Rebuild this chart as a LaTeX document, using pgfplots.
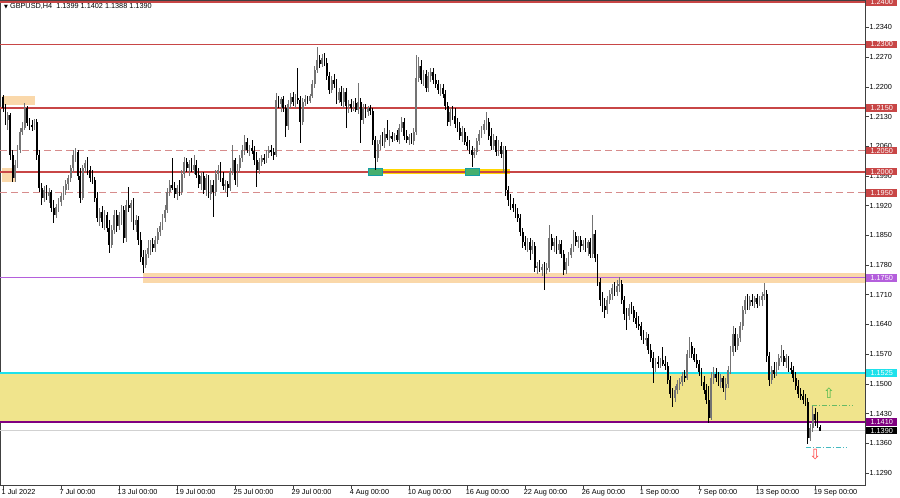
\documentclass[border=0pt]{standalone}
\usepackage{pgfplots}
\pgfplotsset{compat=1.18}
\usepackage{pgfplotstable}
\usepackage{fontspec}
\setmainfont{Liberation Sans}
\newfontfamily\dejavu{DejaVu Sans}
\definecolor{lvlred}{RGB}{200,70,70}
\definecolor{lvldash}{RGB}{215,140,140}
\definecolor{peach}{RGB}{250,216,170}
\definecolor{orchid}{RGB}{180,95,220}
\definecolor{zone}{RGB}{240,228,140}
\definecolor{cyanl}{RGB}{30,225,235}
\definecolor{dpurple}{RGB}{128,0,128}
\definecolor{gold}{RGB}{255,214,0}
\definecolor{boxgreen}{RGB}{70,175,110}
\definecolor{upc}{RGB}{115,115,115}
\pgfplotstableread{
i o h l c
0 1.2176 1.2181 1.2141 1.2150
1 1.2150 1.2160 1.2110 1.2122
2 1.2122 1.2141 1.2098 1.2134
3 1.2134 1.2138 1.2028 1.2039
4 1.2039 1.2051 1.1976 1.1985
5 1.1985 1.2028 1.1976 1.2016
6 1.2016 1.2063 1.2009 1.2051
7 1.2051 1.2103 1.2044 1.2094
8 1.2094 1.2117 1.2087 1.2103
9 1.2103 1.2162 1.2098 1.2150
10 1.2150 1.2155 1.2108 1.2115
11 1.2115 1.2127 1.2098 1.2110
12 1.2110 1.2122 1.2096 1.2105
13 1.2105 1.2124 1.2098 1.2117
14 1.2117 1.2124 1.2028 1.2039
15 1.2039 1.2051 1.1952 1.1962
16 1.1962 1.1973 1.1922 1.1938
17 1.1938 1.1966 1.1929 1.1957
18 1.1957 1.1969 1.1933 1.1943
19 1.1943 1.1962 1.1926 1.1952
20 1.1952 1.1957 1.1905 1.1914
21 1.1914 1.1933 1.1879 1.1898
22 1.1898 1.1924 1.1891 1.1917
23 1.1917 1.1938 1.1905 1.1929
24 1.1929 1.1950 1.1919 1.1943
25 1.1943 1.1966 1.1933 1.1957
26 1.1957 1.1980 1.1945 1.1971
27 1.1971 1.1992 1.1957 1.1985
28 1.1985 1.2016 1.1976 1.2009
29 1.2009 1.2051 1.1999 1.2039
30 1.2039 1.2056 1.2023 1.2047
31 1.2047 1.2051 1.1980 1.1990
32 1.1990 1.2009 1.1926 1.1938
33 1.1938 1.2016 1.1933 1.2009
34 1.2009 1.2028 1.1999 1.2021
35 1.2021 1.2035 1.1992 1.2004
36 1.2004 1.2014 1.1976 1.1985
37 1.1985 1.2004 1.1971 1.1980
38 1.1980 1.1987 1.1929 1.1938
39 1.1938 1.1952 1.1881 1.1891
40 1.1891 1.1914 1.1872 1.1905
41 1.1905 1.1919 1.1867 1.1881
42 1.1881 1.1910 1.1863 1.1898
43 1.1898 1.1905 1.1858 1.1867
44 1.1867 1.1886 1.1808 1.1827
45 1.1827 1.1874 1.1820 1.1863
46 1.1863 1.1910 1.1853 1.1898
47 1.1898 1.1910 1.1858 1.1872
48 1.1872 1.1905 1.1863 1.1898
49 1.1898 1.1922 1.1874 1.1910
50 1.1910 1.1919 1.1832 1.1844
51 1.1844 1.1933 1.1834 1.1922
52 1.1922 1.1964 1.1905 1.1914
53 1.1914 1.1933 1.1881 1.1926
54 1.1926 1.1938 1.1863 1.1874
55 1.1874 1.1898 1.1858 1.1886
56 1.1886 1.1896 1.1827 1.1839
57 1.1839 1.1858 1.1787 1.1799
58 1.1799 1.1815 1.1761 1.1780
59 1.1780 1.1815 1.1773 1.1806
60 1.1806 1.1839 1.1797 1.1820
61 1.1820 1.1839 1.1804 1.1830
62 1.1830 1.1844 1.1811 1.1820
63 1.1820 1.1849 1.1811 1.1839
64 1.1839 1.1867 1.1830 1.1858
65 1.1858 1.1881 1.1849 1.1872
66 1.1872 1.1900 1.1863 1.1891
67 1.1891 1.1922 1.1881 1.1910
68 1.1910 1.1962 1.1903 1.1952
69 1.1952 1.1980 1.1943 1.1969
70 1.1969 1.2032 1.1957 1.1962
71 1.1962 1.1976 1.1938 1.1947
72 1.1947 1.1969 1.1933 1.1962
73 1.1962 1.1980 1.1943 1.1952
74 1.1952 1.2004 1.1945 1.1995
75 1.1995 1.2035 1.1985 1.2023
76 1.2023 1.2032 1.1999 1.2009
77 1.2009 1.2028 1.1990 1.2018
78 1.2018 1.2032 1.1999 1.2004
79 1.2004 1.2039 1.1995 1.2016
80 1.2016 1.2028 1.1985 1.1992
81 1.1992 1.2009 1.1962 1.1971
82 1.1971 1.1999 1.1957 1.1990
83 1.1990 1.1999 1.1947 1.1957
84 1.1957 1.1995 1.1943 1.1985
85 1.1985 1.1992 1.1938 1.1947
86 1.1947 1.1980 1.1933 1.1969
87 1.1969 1.1980 1.1893 1.1952
88 1.1952 1.2004 1.1943 1.1995
89 1.1995 1.2016 1.1980 1.2004
90 1.2004 1.2023 1.1976 1.1985
91 1.1985 1.1999 1.1957 1.1966
92 1.1966 1.1980 1.1952 1.1971
93 1.1971 1.1978 1.1940 1.1962
94 1.1962 1.2009 1.1954 1.1999
95 1.1999 1.2063 1.1992 1.2028
96 1.2028 1.2032 1.1969 1.1980
97 1.1980 1.2018 1.1964 1.2009
98 1.2009 1.2039 1.1999 1.2032
99 1.2032 1.2063 1.2023 1.2051
100 1.2051 1.2087 1.2039 1.2070
101 1.2070 1.2079 1.2044 1.2051
102 1.2051 1.2063 1.2037 1.2056
103 1.2056 1.2075 1.2042 1.2049
104 1.2049 1.2061 1.2016 1.2028
105 1.2028 1.2047 1.1964 1.2004
106 1.2004 1.2032 1.1995 1.2023
107 1.2023 1.2039 1.2014 1.2032
108 1.2032 1.2042 1.2018 1.2028
109 1.2028 1.2051 1.2021 1.2044
110 1.2044 1.2061 1.2032 1.2051
111 1.2051 1.2063 1.2037 1.2047
112 1.2047 1.2056 1.2028 1.2039
113 1.2039 1.2185 1.2035 1.2169
114 1.2169 1.2178 1.2150 1.2160
115 1.2160 1.2176 1.2141 1.2171
116 1.2171 1.2178 1.2141 1.2150
117 1.2150 1.2157 1.2082 1.2108
118 1.2108 1.2169 1.2098 1.2160
119 1.2160 1.2185 1.2150 1.2176
120 1.2176 1.2188 1.2155 1.2164
121 1.2164 1.2183 1.2150 1.2174
122 1.2174 1.2244 1.2160 1.2169
123 1.2169 1.2178 1.2068 1.2117
124 1.2117 1.2174 1.2110 1.2164
125 1.2164 1.2181 1.2155 1.2171
126 1.2171 1.2178 1.2160 1.2167
127 1.2167 1.2183 1.2162 1.2178
128 1.2178 1.2216 1.2174 1.2207
129 1.2207 1.2249 1.2197 1.2240
130 1.2240 1.2294 1.2233 1.2263
131 1.2263 1.2275 1.2244 1.2254
132 1.2254 1.2277 1.2247 1.2268
133 1.2268 1.2280 1.2249 1.2256
134 1.2256 1.2268 1.2216 1.2226
135 1.2226 1.2235 1.2183 1.2193
136 1.2193 1.2226 1.2185 1.2216
137 1.2216 1.2230 1.2197 1.2207
138 1.2207 1.2218 1.2160 1.2169
139 1.2169 1.2197 1.2162 1.2188
140 1.2188 1.2202 1.2155 1.2164
141 1.2164 1.2197 1.2150 1.2188
142 1.2188 1.2197 1.2103 1.2155
143 1.2155 1.2169 1.2138 1.2160
144 1.2160 1.2171 1.2141 1.2150
145 1.2150 1.2167 1.2143 1.2162
146 1.2162 1.2174 1.2141 1.2145
147 1.2145 1.2209 1.2136 1.2164
148 1.2164 1.2174 1.2068 1.2122
149 1.2122 1.2160 1.2112 1.2150
150 1.2150 1.2160 1.2127 1.2141
151 1.2141 1.2155 1.2131 1.2150
152 1.2150 1.2157 1.2134 1.2143
153 1.2143 1.2150 1.2063 1.2075
154 1.2075 1.2084 1.2004 1.2032
155 1.2032 1.2075 1.2023 1.2065
156 1.2065 1.2087 1.2051 1.2075
157 1.2075 1.2094 1.2061 1.2070
158 1.2070 1.2103 1.2056 1.2089
159 1.2089 1.2122 1.2075 1.2079
160 1.2079 1.2098 1.2061 1.2084
161 1.2084 1.2094 1.2070 1.2077
162 1.2077 1.2091 1.2072 1.2087
163 1.2087 1.2098 1.2070 1.2075
164 1.2075 1.2113 1.2065 1.2103
165 1.2103 1.2129 1.2094 1.2117
166 1.2117 1.2127 1.2075 1.2084
167 1.2084 1.2098 1.2068 1.2075
168 1.2075 1.2089 1.2063 1.2082
169 1.2082 1.2091 1.2065 1.2072
170 1.2072 1.2103 1.2063 1.2094
171 1.2094 1.2275 1.2087 1.2221
172 1.2221 1.2270 1.2211 1.2249
173 1.2249 1.2263 1.2207 1.2216
174 1.2216 1.2240 1.2202 1.2230
175 1.2230 1.2240 1.2188 1.2197
176 1.2197 1.2235 1.2188 1.2226
177 1.2226 1.2244 1.2211 1.2235
178 1.2235 1.2244 1.2207 1.2216
179 1.2216 1.2230 1.2197 1.2207
180 1.2207 1.2216 1.2183 1.2193
181 1.2193 1.2207 1.2178 1.2197
182 1.2197 1.2207 1.2174 1.2183
183 1.2183 1.2193 1.2145 1.2155
184 1.2155 1.2164 1.2108 1.2117
185 1.2117 1.2150 1.2108 1.2141
186 1.2141 1.2155 1.2122 1.2131
187 1.2131 1.2150 1.2103 1.2112
188 1.2112 1.2127 1.2094 1.2103
189 1.2103 1.2117 1.2075 1.2084
190 1.2084 1.2108 1.2070 1.2094
191 1.2094 1.2103 1.2063 1.2070
192 1.2070 1.2084 1.2051 1.2061
193 1.2061 1.2075 1.2042 1.2051
194 1.2051 1.2061 1.2011 1.2039
195 1.2039 1.2056 1.2032 1.2047
196 1.2047 1.2079 1.2039 1.2072
197 1.2072 1.2098 1.2063 1.2089
198 1.2089 1.2108 1.2079 1.2098
199 1.2098 1.2122 1.2089 1.2112
200 1.2112 1.2141 1.2098 1.2117
201 1.2117 1.2127 1.2075 1.2084
202 1.2084 1.2103 1.2051 1.2061
203 1.2061 1.2089 1.2051 1.2075
204 1.2075 1.2084 1.2037 1.2047
205 1.2047 1.2075 1.2037 1.2061
206 1.2061 1.2070 1.2032 1.2042
207 1.2042 1.2061 1.1997 1.2051
208 1.2051 1.2061 1.1943 1.1957
209 1.1957 1.1966 1.1919 1.1933
210 1.1933 1.1947 1.1910 1.1924
211 1.1924 1.1938 1.1905 1.1914
212 1.1914 1.1924 1.1891 1.1900
213 1.1900 1.1914 1.1881 1.1891
214 1.1891 1.1900 1.1849 1.1858
215 1.1858 1.1867 1.1820 1.1834
216 1.1834 1.1849 1.1815 1.1825
217 1.1825 1.1844 1.1811 1.1834
218 1.1834 1.1844 1.1792 1.1815
219 1.1815 1.1839 1.1806 1.1825
220 1.1825 1.1834 1.1764 1.1773
221 1.1773 1.1787 1.1759 1.1778
222 1.1778 1.1792 1.1764 1.1768
223 1.1768 1.1782 1.1754 1.1775
224 1.1775 1.1787 1.1721 1.1768
225 1.1768 1.1785 1.1759 1.1773
226 1.1773 1.1874 1.1764 1.1844
227 1.1844 1.1853 1.1815 1.1825
228 1.1825 1.1844 1.1811 1.1834
229 1.1834 1.1849 1.1806 1.1815
230 1.1815 1.1839 1.1806 1.1830
231 1.1830 1.1839 1.1797 1.1806
232 1.1806 1.1815 1.1756 1.1768
233 1.1768 1.1797 1.1759 1.1787
234 1.1787 1.1811 1.1778 1.1804
235 1.1804 1.1830 1.1797 1.1820
236 1.1820 1.1863 1.1811 1.1849
237 1.1849 1.1858 1.1825 1.1834
238 1.1834 1.1849 1.1820 1.1839
239 1.1839 1.1849 1.1811 1.1825
240 1.1825 1.1839 1.1815 1.1830
241 1.1830 1.1844 1.1811 1.1820
242 1.1820 1.1839 1.1801 1.1834
243 1.1834 1.1844 1.1797 1.1806
244 1.1806 1.1898 1.1797 1.1853
245 1.1853 1.1863 1.1787 1.1797
246 1.1797 1.1806 1.1731 1.1740
247 1.1740 1.1749 1.1683 1.1698
248 1.1698 1.1716 1.1669 1.1683
249 1.1683 1.1702 1.1655 1.1674
250 1.1674 1.1707 1.1665 1.1698
251 1.1698 1.1721 1.1688 1.1712
252 1.1712 1.1735 1.1698 1.1726
253 1.1726 1.1740 1.1707 1.1716
254 1.1716 1.1745 1.1707 1.1731
255 1.1731 1.1752 1.1716 1.1735
256 1.1735 1.1745 1.1688 1.1698
257 1.1698 1.1707 1.1650 1.1665
258 1.1665 1.1679 1.1627 1.1660
259 1.1660 1.1688 1.1650 1.1679
260 1.1679 1.1693 1.1665 1.1674
261 1.1674 1.1683 1.1646 1.1655
262 1.1655 1.1669 1.1632 1.1641
263 1.1641 1.1660 1.1627 1.1636
264 1.1636 1.1646 1.1603 1.1613
265 1.1613 1.1627 1.1594 1.1603
266 1.1603 1.1622 1.1589 1.1608
267 1.1608 1.1617 1.1570 1.1580
268 1.1580 1.1594 1.1551 1.1561
269 1.1561 1.1575 1.1502 1.1537
270 1.1537 1.1561 1.1528 1.1551
271 1.1551 1.1566 1.1537 1.1547
272 1.1547 1.1561 1.1537 1.1556
273 1.1556 1.1587 1.1542 1.1547
274 1.1547 1.1566 1.1533 1.1542
275 1.1542 1.1551 1.1500 1.1509
276 1.1509 1.1518 1.1467 1.1476
277 1.1476 1.1490 1.1445 1.1467
278 1.1467 1.1495 1.1457 1.1485
279 1.1485 1.1509 1.1476 1.1500
280 1.1500 1.1514 1.1485 1.1504
281 1.1504 1.1528 1.1495 1.1518
282 1.1518 1.1533 1.1504 1.1514
283 1.1514 1.1580 1.1509 1.1570
284 1.1570 1.1610 1.1561 1.1589
285 1.1589 1.1599 1.1561 1.1570
286 1.1570 1.1584 1.1551 1.1556
287 1.1556 1.1570 1.1537 1.1547
288 1.1547 1.1556 1.1518 1.1528
289 1.1528 1.1537 1.1495 1.1504
290 1.1504 1.1518 1.1476 1.1485
291 1.1485 1.1500 1.1452 1.1462
292 1.1462 1.1495 1.1408 1.1419
293 1.1419 1.1528 1.1415 1.1514
294 1.1514 1.1540 1.1500 1.1523
295 1.1523 1.1537 1.1504 1.1514
296 1.1514 1.1528 1.1495 1.1504
297 1.1504 1.1523 1.1490 1.1514
298 1.1514 1.1518 1.1481 1.1490
299 1.1490 1.1514 1.1462 1.1500
300 1.1500 1.1542 1.1490 1.1533
301 1.1533 1.1589 1.1523 1.1575
302 1.1575 1.1636 1.1566 1.1617
303 1.1617 1.1632 1.1575 1.1589
304 1.1589 1.1617 1.1580 1.1608
305 1.1608 1.1646 1.1599 1.1636
306 1.1636 1.1683 1.1627 1.1674
307 1.1674 1.1707 1.1665 1.1698
308 1.1698 1.1712 1.1674 1.1683
309 1.1683 1.1707 1.1674 1.1698
310 1.1698 1.1712 1.1683 1.1693
311 1.1693 1.1707 1.1679 1.1702
312 1.1702 1.1712 1.1679 1.1688
313 1.1688 1.1707 1.1683 1.1698
314 1.1698 1.1716 1.1683 1.1707
315 1.1707 1.1738 1.1698 1.1712
316 1.1712 1.1721 1.1551 1.1566
317 1.1566 1.1575 1.1495 1.1509
318 1.1509 1.1542 1.1500 1.1533
319 1.1533 1.1551 1.1514 1.1523
320 1.1523 1.1551 1.1518 1.1542
321 1.1542 1.1570 1.1533 1.1561
322 1.1561 1.1591 1.1551 1.1566
323 1.1566 1.1580 1.1542 1.1551
324 1.1551 1.1570 1.1537 1.1561
325 1.1561 1.1566 1.1528 1.1537
326 1.1537 1.1551 1.1523 1.1533
327 1.1533 1.1542 1.1504 1.1514
328 1.1514 1.1528 1.1485 1.1495
329 1.1495 1.1509 1.1467 1.1476
330 1.1476 1.1490 1.1462 1.1471
331 1.1471 1.1485 1.1452 1.1462
332 1.1462 1.1476 1.1448 1.1457
333 1.1457 1.1467 1.1358 1.1372
334 1.1372 1.1405 1.1366 1.1396
335 1.1396 1.1448 1.1386 1.1429
336 1.1429 1.1443 1.1401 1.1415
337 1.1415 1.1434 1.1395 1.1399
338 1.1399 1.1402 1.1388 1.1390
}\candles
\tikzset{lbl/.style={anchor=west, inner sep=0pt, minimum width=31bp, minimum height=7.5bp, text=white, font=\fontsize{7.3bp}{8bp}\selectfont}}
\begin{document}
\begin{tikzpicture}
\fill[white] (0,0) rectangle (900bp,498bp);
\useasboundingbox (0,0) rectangle (900bp,498bp);
\begin{axis}[
  at={(0,13bp)}, anchor=south west,
  scale only axis, width=865bp, height=485bp,
  xmin=-1.241, xmax=356.64, ymin=1.12616, ymax=1.24047,
  axis line style={black!75, line width=0.6bp},
  tick align=outside, major tick length=3.5bp,
  xtick pos=left, ytick pos=right, yticklabel pos=right,
  tick style={black!75, line width=0.5bp},
  xtick={0,24,48,72,96,120,144,168,192,216,240,264,288,312,336},
  xticklabels={1 Jul 2022, 7 Jul 00:00, 13 Jul 00:00, 19 Jul 00:00, 25 Jul 00:00, 29 Jul 00:00, 4 Aug 00:00, 10 Aug 00:00, 16 Aug 00:00, 22 Aug 00:00, 26 Aug 00:00, 1 Sep 00:00, 7 Sep 00:00, 13 Sep 00:00, 19 Sep 00:00},
  ytick={1.1290,1.1360,1.1430,1.1500,1.1570,1.1640,1.1710,1.1780,1.1850,1.1920,1.1990,1.2060,1.2130,1.2200,1.2270,1.2340},
  yticklabels={1.1290,1.1360,1.1430,1.1500,1.1570,1.1640,1.1710,1.1780,1.1850,1.1920,1.1990,1.2060,1.2130,1.2200,1.2270,1.2340},
  /pgf/number format/assume math mode=true,
  tick label style={font=\fontsize{7.3bp}{8bp}\selectfont, text=black},
  xticklabel style={anchor=north west, inner sep=0pt, xshift=-1.5bp, yshift=-1bp},
  yticklabel style={anchor=west, inner sep=0pt, xshift=1bp},
  clip=false,
]
% zones
\fill[zone] (axis cs:-1.241,1.1410) rectangle (axis cs:356.64,1.1525);
\fill[peach] (axis cs:57.9,1.17377) rectangle (axis cs:356.64,1.17613);
\fill[peach] (axis cs:-0.4,1.2157) rectangle (axis cs:13.2,1.2178);
\fill[peach] (axis cs:-0.4,1.1976) rectangle (axis cs:5.0,1.2009);
\draw[gold, line width=5bp] (axis cs:151,1.2000) -- (axis cs:209.8,1.2000);
% level lines
\draw[lvlred, line width=1.8bp] (axis cs:-1.241,1.2400) -- (axis cs:356.64,1.2400);
\draw[lvlred, line width=1.8bp] (axis cs:-1.241,1.2300) -- (axis cs:356.64,1.2300);
\draw[lvlred, line width=1.8bp] (axis cs:-1.241,1.2150) -- (axis cs:356.64,1.2150);
\draw[lvlred, line width=1.8bp] (axis cs:-1.241,1.2000) -- (axis cs:356.64,1.2000);
\draw[lvldash, line width=1.1bp, dash pattern=on 7bp off 4bp] (axis cs:-1.241,1.2050) -- (axis cs:356.64,1.2050);
\draw[lvldash, line width=1.1bp, dash pattern=on 7bp off 4bp] (axis cs:-1.241,1.1950) -- (axis cs:356.64,1.1950);
\draw[orchid, line width=1.4bp] (axis cs:-1.241,1.1750) -- (axis cs:356.64,1.1750);
\draw[black!18, line width=1.2bp] (axis cs:-1.241,1.1390) -- (axis cs:356.64,1.1390);
\draw[cyanl, line width=1.8bp] (axis cs:-1.241,1.1525) -- (axis cs:356.64,1.1525);
\draw[dpurple, line width=2bp] (axis cs:-1.241,1.1410) -- (axis cs:356.64,1.1410);
\fill[boxgreen, draw=cyanl!70!black, line width=0.5bp] (axis cs:151,1.19922) rectangle (axis cs:156.8,1.20087);
\fill[boxgreen, draw=cyanl!70!black, line width=0.5bp] (axis cs:191.1,1.19922) rectangle (axis cs:196.9,1.20087);
% candles: wicks
\addplot[draw=none, mark=none, forget plot, restrict expr to domain={\thisrow{c}-\thisrow{o}}{0:1},
  error bars/.cd, y dir=both, y explicit, error mark=none, error bar style={draw=upc, line width=0.8bp}]
  table[x=i, y expr={(\thisrow{h}+\thisrow{l})/2}, y error expr={(\thisrow{h}-\thisrow{l})/2}] {\candles};
\addplot[draw=none, mark=none, forget plot, restrict expr to domain={\thisrow{c}-\thisrow{o}}{-1:0},
  error bars/.cd, y dir=both, y explicit, error mark=none, error bar style={draw=black, line width=0.8bp}]
  table[x=i, y expr={(\thisrow{h}+\thisrow{l})/2}, y error expr={(\thisrow{h}-\thisrow{l})/2}] {\candles};
% candles: bodies
\addplot[draw=none, mark=none, forget plot, restrict expr to domain={\thisrow{c}-\thisrow{o}}{0:1},
  error bars/.cd, y dir=both, y explicit, error mark=none, error bar style={draw=upc, line width=1.8bp}]
  table[x=i, y expr={(\thisrow{o}+\thisrow{c})/2}, y error expr={max(abs(\thisrow{c}-\thisrow{o})/2,0.00011)}] {\candles};
\addplot[draw=none, mark=none, forget plot, restrict expr to domain={\thisrow{c}-\thisrow{o}}{-1:0},
  error bars/.cd, y dir=both, y explicit, error mark=none, error bar style={draw=black, line width=1.8bp}]
  table[x=i, y expr={(\thisrow{o}+\thisrow{c})/2}, y error expr={max(abs(\thisrow{c}-\thisrow{o})/2,0.00011)}] {\candles};
% projection lines and arrows
\draw[green!55!black!60, line width=0.6bp, dash pattern=on 5bp off 2bp on 1bp off 2bp] (axis cs:334.7,1.1450) -- (axis cs:351.3,1.1450);
\draw[cyanl!60!gray, line width=0.6bp, dash pattern=on 5bp off 2bp on 1bp off 2bp] (axis cs:332.2,1.1351) -- (axis cs:349.2,1.1351);
\node[text=green!60!black!70, font=\dejavu\fontsize{14bp}{15bp}\selectfont, inner sep=0pt] at (axis cs:341.7,1.1478) {⇧};
\node[text=red!75, font=\dejavu\fontsize{14bp}{15bp}\selectfont, inner sep=0pt] at (axis cs:336,1.1333) {⇩};
% coordinates for price labels
\coordinate (R2400) at (axis cs:356.64,1.2400);
\coordinate (R2300) at (axis cs:356.64,1.2300);
\coordinate (R2150) at (axis cs:356.64,1.2150);
\coordinate (R2050) at (axis cs:356.64,1.2050);
\coordinate (R2000) at (axis cs:356.64,1.2000);
\coordinate (R1950) at (axis cs:356.64,1.1950);
\coordinate (R1750) at (axis cs:356.64,1.1750);
\coordinate (R1525) at (axis cs:356.64,1.1525);
\coordinate (R1410) at (axis cs:356.64,1.1410);
\coordinate (R1390) at (axis cs:356.64,1.1390);
\coordinate (TL) at (axis cs:-1.241,1.24047);
\end{axis}
\node[lbl, fill=lvlred] at ([xshift=1bp]R2400) {1.2400};
\node[lbl, fill=lvlred] at ([xshift=1bp]R2300) {1.2300};
\node[lbl, fill=lvlred] at ([xshift=1bp]R2150) {1.2150};
\node[lbl, fill=lvlred] at ([xshift=1bp]R2050) {1.2050};
\node[lbl, fill=lvlred] at ([xshift=1bp]R2000) {1.2000};
\node[lbl, fill=lvlred] at ([xshift=1bp]R1950) {1.1950};
\node[lbl, fill=orchid] at ([xshift=1bp]R1750) {1.1750};
\node[lbl, fill=cyanl] at ([xshift=1bp]R1525) {1.1525};
\node[lbl, fill=dpurple] at ([xshift=1bp]R1410) {1.1410};
\node[lbl, fill=black] at ([xshift=1bp]R1390) {1.1390};
\node[anchor=north west, inner sep=0pt, font=\fontsize{7.3bp}{8bp}\selectfont] at ([xshift=4bp, yshift=-3bp]TL) {{\dejavu\fontsize{5bp}{6bp}\selectfont ▼}\ GBPUSD,H4\ \ 1.1399 1.1402 1.1388 1.1390};
\end{tikzpicture}
\end{document}
